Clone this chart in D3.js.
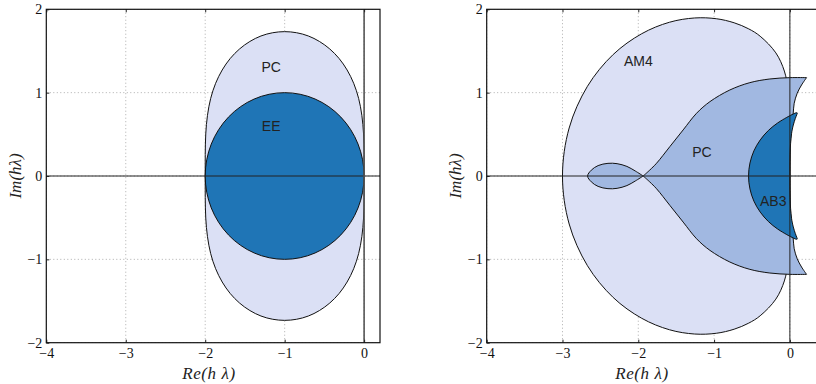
<!DOCTYPE html>
<html><head><meta charset="utf-8">
<script src="https://cdn.jsdelivr.net/npm/d3@7"></script>
<style>
body{margin:0;background:#fff}
svg{display:block}
.tick text{font-family:"Liberation Serif","Times New Roman",serif;font-size:14px;fill:#111}
.lbl{font-family:"Liberation Sans",Arial,sans-serif;font-size:14px;fill:#222}
.ttl{font-family:"Liberation Serif","Times New Roman",serif;font-style:italic;font-size:17px;fill:#222}
</style></head>
<body><svg id="c" width="816" height="384"></svg>
<script>
// ---------- data ----------
const xTickValues = [-4, -3, -2, -1, 0];
const yTickValues = [-2, -1, 0, 1, 2];
const leftXDomain = [-4, 0.2];
const rightXDomain = [-4, 0.4];
const yDomain = [-2, 2];

// Left panel: explicit Euler (circle) and predictor-corrector region (upper half, Re from 0 to -2)
const eeCircle = {cx: -1, cy: 0, r: 1};
const pcLeftUpper = [[0,0],[-0.0005,0.259],[-0.007,0.504],[-0.0285,0.728],[-0.069,0.931],[-0.131,1.112],
  [-0.214,1.272],[-0.315,1.410],[-0.432,1.524],[-0.562,1.614],[-0.702,1.680],[-0.850,1.719],[-1,1.732],
  [-1.150,1.719],[-1.298,1.680],[-1.438,1.614],[-1.568,1.524],[-1.685,1.410],[-1.786,1.272],[-1.869,1.112],
  [-1.931,0.931],[-1.9715,0.728],[-1.993,0.504],[-1.9995,0.259],[-2,0]];

// Right panel: AM4 region (upper half, from 0 to -3)
const am4Upper = [[0,0],[0,0.26],[0,0.523],[-0.004,0.779],[-0.022,1.026],[-0.073,1.259],[-0.185,1.477],
  [-0.392,1.677],[-0.543,1.765],[-0.735,1.838],[-0.971,1.887],[-1.256,1.896],[-1.588,1.845],[-1.955,1.707],
  [-2.332,1.457],[-2.671,1.076],[-2.912,0.576],[-3,0]];
// AB3 region (upper half, from 0 to -0.5455)
const ab3Upper = [[0,0],[0.0017,0.261],[0.022,0.508],[0.045,0.611],[0.071,0.688],[0.091,0.736],[0.097,0.757],
  [0.085,0.759],[0.055,0.749],[0.012,0.729],[-0.041,0.703],[-0.162,0.636],[-0.284,0.546],[-0.391,0.433],
  [-0.475,0.301],[-0.527,0.155],[-0.5455,0]];
// PC region: upper edge (crossing -> tip), right edge (tip -> origin), small loop (crossing -> leftmost)
const pcRightTop = [[-1.935,0],[-1.85,0.07],[-1.759,0.153],[-1.583,0.353],[-1.408,0.553],[-1.231,0.753],
  [-1.055,0.892],[-0.792,1.032],[-0.528,1.12],[-0.264,1.164],[0,1.18],[0.22,1.18]];
const pcRightEdge = [[0.22,1.18],[0.154,1.092],[0.097,0.993],[0.057,0.873],[0.044,0.753],[0.022,0.592],
  [0.009,0.432],[0,0]];
const pcLoopUpper = [[-1.935,0],[-2.04,0.06],[-2.15,0.115],[-2.28,0.148],[-2.40,0.152],[-2.53,0.125],
  [-2.62,0.07],[-2.669,0]];

const leftLabels = [{t:"PC", x:-1.17, y:1.31}, {t:"EE", x:-1.17, y:0.6}];
const rightLabels = [{t:"AM4", x:-2.0, y:1.38}, {t:"PC", x:-1.16, y:0.29}, {t:"AB3", x:-0.22, y:-0.3}];

const colLight = "#dbe0f5", colMid = "#a1b8e1", colDark = "#1f75b6";

// ---------- drawing ----------
const svg = d3.select("#c");
const yRange = [342.7, 9.3];
const fmt = d3.format("d");

const mirror = pts => pts.map(([x, y]) => [x, -y]);
const rev = pts => pts.slice().reverse();

function makePanel(x0, x1, xDomain, titleX, ylabX) {
  const x = d3.scaleLinear().domain(xDomain).range([x0, x1]);
  const y = d3.scaleLinear().domain(yDomain).range(yRange);
  const g = svg.append("g");
  const id = "clip" + Math.round(x0);
  svg.append("clipPath").attr("id", id).append("rect")
    .attr("x", x0).attr("y", yRange[1]).attr("width", x1 - x0).attr("height", yRange[0] - yRange[1]);
  const grid = g.append("g").attr("clip-path", `url(#${id})`);
  grid.selectAll(".gx").data(xTickValues).join("line")
    .attr("x1", d => x(d)).attr("x2", d => x(d)).attr("y1", yRange[0]).attr("y2", yRange[1])
    .attr("stroke", "#999").attr("stroke-width", 0.8).attr("stroke-dasharray", "1,2.5");
  grid.selectAll(".gy").data(yTickValues).join("line")
    .attr("y1", d => y(d)).attr("y2", d => y(d)).attr("x1", x0).attr("x2", x1)
    .attr("stroke", "#999").attr("stroke-width", 0.8).attr("stroke-dasharray", "1,2.5");
  const plot = g.append("g").attr("clip-path", `url(#${id})`);
  return {x, y, g, plot, x0, x1, titleX, ylabX, id};
}

function finishPanel(p, labels, zeroStyle) {
  const {x, y, g, x0, x1} = p;
  const top = g.append("g").attr("clip-path", `url(#${p.id})`);
  top.append("line").attr("x1", x0).attr("x2", x1).attr("y1", y(0)).attr("y2", y(0))
    .attr("stroke", "#222").attr("stroke-width", 1);
  top.append("line").attr("x1", x(0)).attr("x2", x(0)).attr("y1", yRange[0]).attr("y2", yRange[1])
    .attr("stroke", zeroStyle.c).attr("stroke-width", zeroStyle.w);
  g.selectAll(".lbl").data(labels).join("text").attr("class", "lbl")
    .attr("x", d => x(d.x)).attr("y", d => y(d.y)).attr("text-anchor", "middle")
    .attr("dy", "0.35em").text(d => d.t);
  const ax = g.append("g").attr("transform", `translate(0,${yRange[0]})`)
    .call(d3.axisBottom(x).tickValues(xTickValues).tickFormat(fmt).tickSizeInner(-3).tickSizeOuter(0).tickPadding(5));
  const ay = g.append("g").attr("transform", `translate(${x0},0)`)
    .call(d3.axisLeft(y).tickValues(yTickValues).tickFormat(fmt).tickSizeInner(-3).tickSizeOuter(0).tickPadding(4));
  [ax, ay].forEach(a => { a.select(".domain").remove(); a.selectAll(".tick line").attr("stroke", "#222"); });
  g.append("g").attr("transform", `translate(0,${yRange[1]})`)
    .call(d3.axisTop(x).tickValues(xTickValues).tickSizeInner(-3).tickSizeOuter(0).tickFormat(""))
    .call(a => { a.select(".domain").remove(); a.selectAll(".tick line").attr("stroke", "#222"); });
  g.append("rect").attr("x", x0).attr("y", yRange[1]).attr("width", x1 - x0)
    .attr("height", yRange[0] - yRange[1]).attr("fill", "none").attr("stroke", "#111").attr("stroke-width", 1.2);
  g.append("text").attr("class", "ttl").attr("x", p.titleX).attr("y", 379).attr("text-anchor", "middle")
    .attr("letter-spacing", "0.6px").text("Re(h λ)");
  g.append("text").attr("class", "ttl")
    .attr("transform", `translate(${p.ylabX},${y(0)}) rotate(-90)`).attr("text-anchor", "middle")
    .text("Im(hλ)");
}

function joinSegments(p, segs) {
  const ln = d3.line().x(d => p.x(d[0])).y(d => p.y(d[1])).curve(d3.curveCatmullRom.alpha(0.5));
  let s = "";
  segs.forEach((seg, i) => {
    let d = ln(seg);
    if (i > 0) d = "L" + d.slice(1);
    s += d;
  });
  return s + "Z";
}
function closedSmooth(p, pts) {
  return d3.line().x(d => p.x(d[0])).y(d => p.y(d[1])).curve(d3.curveCatmullRomClosed.alpha(0.5))(pts);
}

// ---- left panel ----
const L = makePanel(46.3, 380, leftXDomain, 209, 21);
const pcLeftFull = pcLeftUpper.concat(rev(mirror(pcLeftUpper)).slice(1, -1));
L.plot.append("path").attr("d", closedSmooth(L, pcLeftFull))
  .attr("fill", colLight).attr("stroke", "#111").attr("stroke-width", 1);
L.plot.append("ellipse")
  .attr("cx", L.x(eeCircle.cx)).attr("cy", L.y(eeCircle.cy))
  .attr("rx", L.x(eeCircle.cx + eeCircle.r) - L.x(eeCircle.cx))
  .attr("ry", L.y(eeCircle.cy) - L.y(eeCircle.cy + eeCircle.r))
  .attr("fill", colDark).attr("stroke", "#111").attr("stroke-width", 1);
finishPanel(L, leftLabels, {c: "#555", w: 1.6});

// ---- right panel ----
const R = makePanel(486.7, 820.2, rightXDomain, 642, 461);
const am4Full = am4Upper.concat(rev(mirror(am4Upper)).slice(1, -1));
R.plot.append("path").attr("d", closedSmooth(R, am4Full))
  .attr("fill", colLight).attr("stroke", "#111").attr("stroke-width", 1);
const pcMain = joinSegments(R, [
  pcRightTop,
  pcRightEdge.concat(rev(mirror(pcRightEdge)).slice(1)),
  rev(mirror(pcRightTop))
]);
R.plot.append("path").attr("d", pcMain).attr("fill", colMid).attr("stroke", "#111").attr("stroke-width", 1);
const pcLoop = joinSegments(R, [pcLoopUpper.concat(rev(mirror(pcLoopUpper)).slice(1))]);
R.plot.append("path").attr("d", pcLoop).attr("fill", colMid).attr("stroke", "#111").attr("stroke-width", 1);
const ab3Full = ab3Upper.concat(rev(mirror(ab3Upper)).slice(1, -1));
R.plot.append("path").attr("d", closedSmooth(R, ab3Full))
  .attr("fill", colDark).attr("stroke", "#111").attr("stroke-width", 1);
finishPanel(R, rightLabels, {c: "#222", w: 1});
</script></body></html>
